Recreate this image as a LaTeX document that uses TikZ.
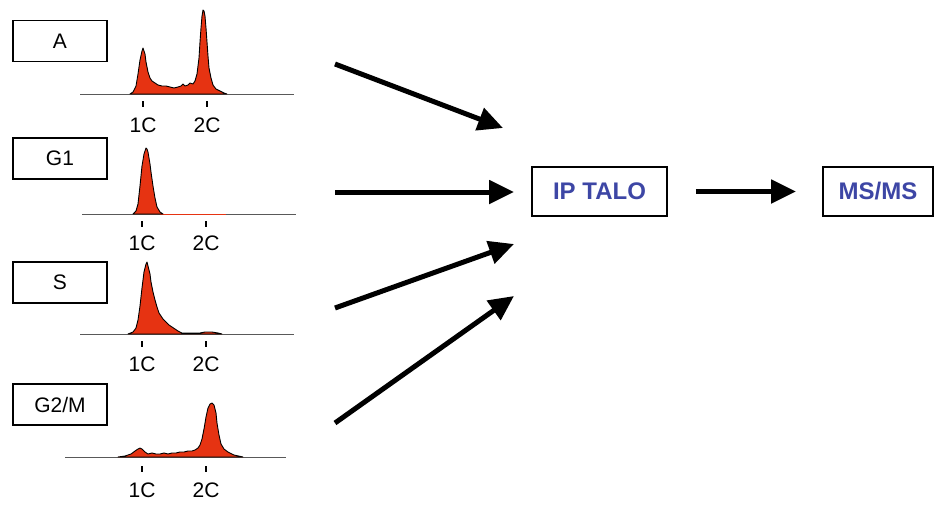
\documentclass[tikz,border=0pt]{standalone}
\usepackage{fontspec}
\setmainfont{Liberation Sans}
\usetikzlibrary{arrows.meta}
\definecolor{histred}{HTML}{E63312}
\definecolor{labblue}{HTML}{3D46A5}
\tikzset{
  phasebox/.style={draw=black, line width=1.8pt, minimum width=94pt, minimum height=41pt, inner sep=0pt, font=\fontsize{21}{21}\selectfont},
  procbox/.style={draw=black, line width=1.8pt, minimum height=49pt, inner sep=0pt, text=labblue, font=\fontsize{24}{24}\selectfont\bfseries},
  bigarrow/.style={line width=5pt, -{Triangle[length=25pt,width=23pt]}},
  hist/.style={fill=histred, draw=black, line width=0.9pt, line join=round},
  baseline/.style={draw=black!65, line width=0.9pt},
  tick/.style={line width=2pt},
  clab/.style={font=\fontsize{21}{21}\selectfont, inner sep=0pt}
}
\begin{document}
\begin{tikzpicture}[x=1pt,y=-1pt]
\useasboundingbox (0,0) rectangle (935,504);

% phase boxes
\node[phasebox] (bA) at (60,41) {A};
\node[phasebox] (bG1) at (60,158.5) {G1};
\node[phasebox] (bS) at (60,282.5) {S};
\node[phasebox] (bG2) at (60,404.5) {G2/M};

% histogram A (baseline 94)
\begin{scope}[shift={(0,94)}]
\draw[baseline] (80,0) -- (294,0);
\draw[hist] plot coordinates {(130,0) (133,-2) (136,-8) (138,-20) (140,-34) (142,-43) (143,-46) (145,-40) (146,-32) (148,-22) (150,-16) (152,-13) (155,-11) (158,-9) (162,-8) (166,-8) (170,-7) (174,-6) (178,-7) (181,-8) (183,-10) (185,-8) (188,-9) (190,-11) (193,-10) (195,-13) (197,-20) (199,-36) (200,-52) (201,-66) (202,-78) (203,-84) (204,-83) (205,-78) (206,-66) (207,-52) (208,-38) (209,-26) (211,-16) (213,-9) (216,-5) (220,-3) (224,-1) (227,0)} -- cycle;
\draw[tick] (143,7) -- (143,13);
\draw[tick] (207,7) -- (207,13);
\node[clab] (a1) at (143,31) {1C};
\node[clab] (a2) at (207,31) {2C};
\end{scope}

% histogram G1 (baseline 214)
\begin{scope}[shift={(0,214)}]
\draw[baseline] (82,0) -- (296,0);
\draw[histred, line width=0.8pt] (160,0) -- (226,0);
\draw[hist] plot coordinates {(133,0) (136,-3) (138,-10) (140,-28) (142,-48) (144,-60) (146,-66) (147,-65) (148,-62) (150,-50) (151,-42) (153,-28) (155,-16) (157,-7) (160,-2) (163,0)} -- cycle;
\draw[tick] (142,7) -- (142,13);
\draw[tick] (206,7) -- (206,13);
\node[clab] (g11) at (142,29) {1C};
\node[clab] (g12) at (206,29) {2C};
\end{scope}

% histogram S (baseline 334)
\begin{scope}[shift={(0,334)}]
\draw[baseline] (80,0) -- (294,0);
\draw[hist] plot coordinates {(128,0) (133,-2) (136,-6) (138,-14) (140,-28) (142,-46) (144,-62) (146,-70) (147,-72) (148,-68) (150,-60) (151,-52) (153,-42) (155,-34) (157,-27) (159,-21) (161,-18) (163,-15) (166,-12) (169,-9) (172,-7) (175,-5) (178,-3) (182,-1) (190,-1) (200,-1) (205,-2) (212,-2) (218,-1) (222,0)} -- cycle;
\draw[tick] (142,7) -- (142,13);
\draw[tick] (206,7) -- (206,13);
\node[clab] (s1) at (142,30) {1C};
\node[clab] (s2) at (206,30) {2C};
\end{scope}

% histogram G2/M (baseline 457)
\begin{scope}[shift={(0,457)}]
\draw[baseline] (65,0) -- (286,0);
\draw[hist] plot coordinates {(118,0) (125,-1) (131,-3) (135,-6) (138,-8) (140,-9) (142,-8) (145,-5) (148,-3) (152,-4) (156,-3) (160,-3) (164,-4) (168,-3) (172,-4) (176,-4) (180,-5) (184,-5) (188,-6) (192,-6) (195,-7) (198,-9) (200,-12) (202,-18) (204,-28) (206,-40) (208,-49) (210,-53) (212,-54) (214,-52) (216,-44) (217,-34) (219,-22) (221,-13) (224,-8) (228,-5) (234,-2) (243,0)} -- cycle;
\draw[tick] (142,9) -- (142,15);
\draw[tick] (206,9) -- (206,15);
\node[clab] (m1) at (142,33) {1C};
\node[clab] (m2) at (206,33) {2C};
\end{scope}

% process boxes
\node[procbox, minimum width=135pt] (ip) at (599.5,191.5) {IP TALO};
\node[procbox, minimum width=110pt] (ms) at (878,191.5) {MS/MS};

% arrows
\coordinate (f1) at (335,64);  \coordinate (t1) at (503,128);
\coordinate (f2) at (335,192); \coordinate (t2) at (514,192);
\coordinate (f3) at (335,308); \coordinate (t3) at (514,244);
\coordinate (f4) at (335,423); \coordinate (t4) at (514,296);
\draw[bigarrow] (f1) -- (t1);
\draw[bigarrow] (f2) -- (t2);
\draw[bigarrow] (f3) -- (t3);
\draw[bigarrow] (f4) -- (t4);
\draw[bigarrow, shorten <=28pt, shorten >=26pt] (ip.east) -- (ms.west);
\end{tikzpicture}
\end{document}
